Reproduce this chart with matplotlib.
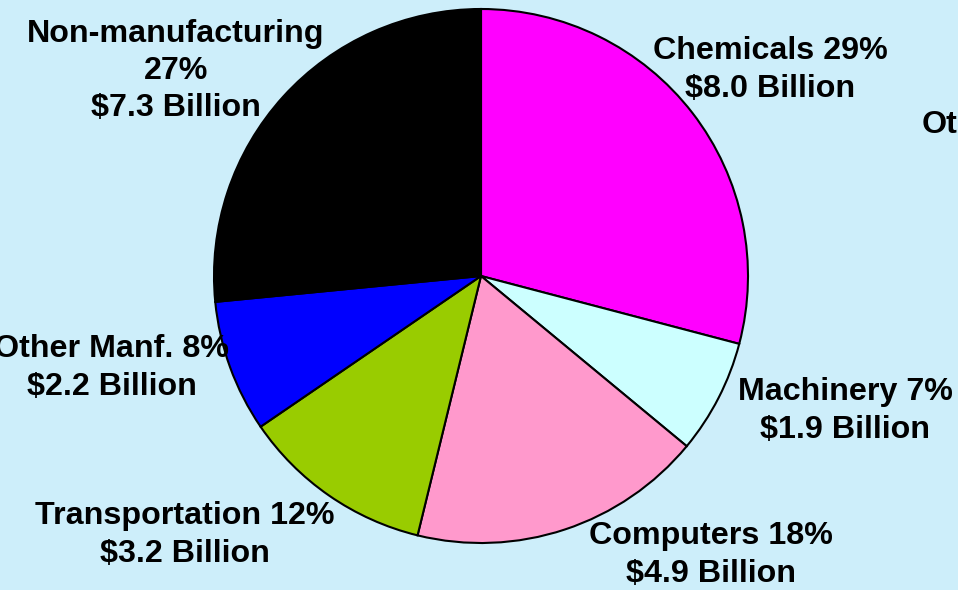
import matplotlib
matplotlib.use("Agg")
import matplotlib.pyplot as plt

# sectors, clockwise from 12 o'clock
sectors = ["Chemicals", "Machinery", "Computers", "Transportation",
           "Other Manf.", "Non-manufacturing"]
billions = [8.0, 1.9, 4.9, 3.2, 2.2, 7.3]
percents = [29, 7, 18, 12, 8, 27]
colors = ["#ff00ff", "#ccffff", "#ff99cc", "#99cc00", "#0000ff", "#000000"]

# label centres in pixels (from top-left of the 958x590 picture)
label_pos = [(770, 70), (845, 411), (711, 555), (185, 535), (112, 368), (176, 71)]

W, H = 958, 590
fig = plt.figure(figsize=(W / 100, H / 100), dpi=100)
fig.patch.set_facecolor("#cdeefa")
ax = fig.add_axes([0, 0, 1, 1])
ax.set_xlim(0, W)
ax.set_ylim(0, H)
ax.set_aspect("equal")
ax.axis("off")

ax.pie(billions, colors=colors, startangle=90, counterclock=False,
       center=(481, H - 276), radius=267,
       wedgeprops=dict(edgecolor="black", linewidth=1.5))
ax.set_xlim(0, W)
ax.set_ylim(0, H)

font = dict(family=["Liberation Sans", "DejaVu Sans"], fontsize=23.2,
            fontweight="bold", color="black", ha="center", va="center",
            linespacing=1.32)

for name, b, p, (x, y) in zip(sectors, billions, percents, label_pos):
    if name == "Non-manufacturing":
        txt = f"{name}\n{p}%\n${b:.1f} Billion"
    else:
        txt = f"{name} {p}%\n${b:.1f} Billion"
    ax.text(x, H - y, txt, **font)

# label of another slide element, cut off at the right edge (as in the source)
ax.text(922, H - 125, "Other", **{**font, "ha": "left"})

fig.savefig("out.png", dpi=100, facecolor=fig.get_facecolor())
